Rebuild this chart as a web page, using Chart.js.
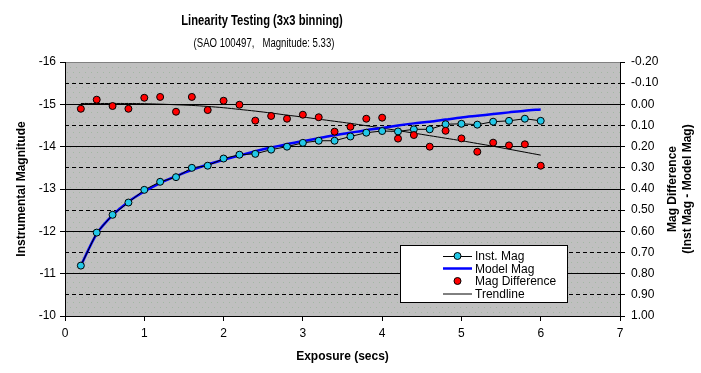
<!DOCTYPE html>
<html>
<head>
<meta charset="utf-8">
<title>Linearity Testing</title>
<script src="https://cdn.jsdelivr.net/npm/chart.js@4.4.1/dist/chart.umd.min.js"></script>
<style>
  html, body { margin: 0; padding: 0; background: #fff; }
  #wrap { width: 701px; height: 373px; }
</style>
</head>
<body>
<div id="wrap"><canvas id="chart" width="701" height="373"></canvas></div>
<script>
// exposure times (secs)
const exposure = [0.2, 0.4, 0.6, 0.8, 1.0, 1.2, 1.4, 1.6, 1.8, 2.0,
                  2.2, 2.4, 2.6, 2.8, 3.0, 3.2, 3.4, 3.6, 3.8, 4.0,
                  4.2, 4.4, 4.6, 4.8, 5.0, 5.2, 5.4, 5.6, 5.8, 6.0];

const instMag = [-11.19, -11.97, -12.39, -12.68, -12.98, -13.17, -13.28, -13.50, -13.55, -13.72,
                 -13.81, -13.83, -13.93, -14.00, -14.09, -14.14, -14.14, -14.24, -14.33, -14.37,
                 -14.36, -14.41, -14.41, -14.53, -14.54, -14.52, -14.59, -14.61, -14.66, -14.61];

const modelMag = [-11.19, -11.94, -12.38, -12.70, -12.94, -13.14, -13.30, -13.45, -13.58, -13.69,
                  -13.79, -13.89, -13.98, -14.06, -14.13, -14.20, -14.27, -14.33, -14.39, -14.44,
                  -14.50, -14.55, -14.59, -14.64, -14.69, -14.73, -14.77, -14.81, -14.85, -14.88];

const magDiff = [0.021, -0.022, 0.008, 0.021, -0.031, -0.035, 0.035, -0.035, 0.027, -0.017,
                 0.002, 0.077, 0.055, 0.068, 0.049, 0.061, 0.129, 0.106, 0.068, 0.063,
                 0.162, 0.145, 0.200, 0.125, 0.161, 0.224, 0.181, 0.194, 0.189, 0.290];

const trendline = [-0.004, -0.004, -0.004, -0.004, -0.003, -0.001, 0.002, 0.005, 0.010, 0.016,
                   0.024, 0.032, 0.041, 0.051, 0.060, 0.070, 0.080, 0.090, 0.101, 0.112,
                   0.124, 0.136, 0.148, 0.160, 0.172, 0.185, 0.198, 0.212, 0.226, 0.240];

// axis ranges
const xRange = [0, 7];
const magRange = [-16, -10];
const diffRange = [-0.2, 1.0];

const FONT = '"Liberation Sans", Arial, sans-serif';
const CYAN = '#22C8E8';

const toPoints = (ys) => exposure.map((x, i) => ({ x: x, y: ys[i] }));

// gray dotted plot background (Excel style)
function makePattern() {
  const c = document.createElement('canvas');
  c.width = 6; c.height = 10;
  const g = c.getContext('2d');
  g.fillStyle = '#C0C0C0';
  g.fillRect(0, 0, 6, 10);
  g.fillStyle = '#A3B7A3';
  g.fillRect(1, 2, 1, 1);
  g.fillRect(4, 7, 1, 1);
  return g.createPattern(c, 'repeat');
}

const plotBg = {
  id: 'plotBg',
  beforeDraw(chart) {
    const { ctx, chartArea: a } = chart;
    ctx.save();
    ctx.fillStyle = makePattern();
    ctx.fillRect(a.left, a.top, a.right - a.left, a.bottom - a.top);
    ctx.restore();
  }
};

// titles, axis titles and the legend box
const extras = {
  id: 'extras',
  afterDraw(chart) {
    const { ctx, chartArea: a } = chart;
    ctx.save();
    ctx.fillStyle = '#000';
    ctx.textAlign = 'center';
    ctx.textBaseline = 'middle';

    // main title + subtitle (narrow look)
    ctx.save();
    ctx.translate(262, 21);
    ctx.scale(0.8, 1);
    ctx.font = 'bold 14px ' + FONT;
    ctx.fillText('Linearity Testing (3x3 binning)', 0, 0);
    ctx.restore();
    ctx.save();
    ctx.translate(264, 44);
    ctx.scale(0.8, 1);
    ctx.font = '12px ' + FONT;
    ctx.fillText('(SAO 100497,   Magnitude: 5.33)', 0, 0);
    ctx.restore();

    // axis titles
    ctx.font = 'bold 12px ' + FONT;
    ctx.fillText('Exposure (secs)', (a.left + a.right) / 2, 357);

    ctx.save();
    ctx.translate(22, (a.top + a.bottom) / 2);
    ctx.rotate(-Math.PI / 2);
    ctx.fillText('Instrumental Magnitude', 0, 0);
    ctx.restore();

    ctx.save();
    ctx.translate(673, (a.top + a.bottom) / 2);
    ctx.rotate(-Math.PI / 2);
    ctx.fillText('Mag Difference', 0, 0);
    ctx.fillText('(Inst Mag - Model Mag)', 0, 15);
    ctx.restore();

    // legend
    const lx = 400.5, ly = 245.5, lw = 167, lh = 57;
    ctx.fillStyle = '#fff';
    ctx.fillRect(lx, ly, lw, lh);
    ctx.strokeStyle = '#000';
    ctx.lineWidth = 1;
    ctx.strokeRect(lx, ly, lw, lh);

    const rows = [256, 268.5, 281, 293.5];
    const x1 = 443, x2 = 472, mx = 457.5;
    ctx.beginPath();
    ctx.moveTo(x1, rows[0] + 0.5); ctx.lineTo(x2, rows[0] + 0.5);
    ctx.moveTo(x1, rows[3] + 0.5); ctx.lineTo(x2, rows[3] + 0.5);
    ctx.stroke();

    ctx.beginPath();
    ctx.strokeStyle = '#0000FF';
    ctx.lineWidth = 2.5;
    ctx.moveTo(x1, rows[1]); ctx.lineTo(x2, rows[1]);
    ctx.stroke();

    ctx.lineWidth = 1;
    ctx.strokeStyle = '#000';
    [[rows[0], CYAN], [rows[2], '#FF0000']].forEach(([y, col]) => {
      ctx.beginPath();
      ctx.arc(mx, y, 3.5, 0, Math.PI * 2);
      ctx.fillStyle = col;
      ctx.fill();
      ctx.stroke();
    });

    ctx.fillStyle = '#000';
    ctx.textAlign = 'left';
    ctx.font = '12px ' + FONT;
    ['Inst. Mag', 'Model Mag', 'Mag Difference', 'Trendline'].forEach((t, i) => {
      ctx.fillText(t, 475, rows[i] + 1);
    });
    ctx.restore();
  }
};

new Chart(document.getElementById('chart'), {
  type: 'line',
  data: {
    datasets: [
      {
        label: 'Inst. Mag',
        data: toPoints(instMag),
        yAxisID: 'y',
        borderColor: '#000',
        borderWidth: 1,
        backgroundColor: CYAN,
        pointBackgroundColor: CYAN,
        pointBorderColor: '#000',
        pointBorderWidth: 1,
        pointRadius: 3.5,
        tension: 0,
        order: 1
      },
      {
        label: 'Model Mag',
        data: toPoints(modelMag),
        yAxisID: 'y',
        borderColor: '#0000FF',
        borderWidth: 2.5,
        pointRadius: 0,
        tension: 0.3,
        order: 2
      },
      {
        label: 'Mag Difference',
        data: toPoints(magDiff),
        yAxisID: 'y2',
        showLine: false,
        backgroundColor: '#FF0000',
        pointBackgroundColor: '#FF0000',
        pointBorderColor: '#000',
        pointBorderWidth: 1,
        pointRadius: 3.5,
        order: 0
      },
      {
        label: 'Trendline',
        data: toPoints(trendline),
        yAxisID: 'y2',
        borderColor: '#000',
        borderWidth: 1,
        pointRadius: 0,
        tension: 0.3,
        order: 3
      }
    ]
  },
  options: {
    responsive: false,
    animation: false,
    events: [],
    layout: { padding: { top: 62, left: 0, right: 0, bottom: 0 } },
    plugins: {
      legend: { display: false },
      tooltip: { enabled: false },
      title: { display: false }
    },
    scales: {
      x: {
        type: 'linear',
        min: xRange[0],
        max: xRange[1],
        afterFit: (s) => { s.height = 57; },
        ticks: { stepSize: 1, color: '#000', font: { family: FONT, size: 12 }, padding: 5 },
        grid: { drawOnChartArea: false, drawTicks: true, tickLength: 5, color: '#000' },
        border: { color: '#000', width: 1 }
      },
      y: {
        type: 'linear',
        position: 'left',
        reverse: true,
        min: magRange[0],
        max: magRange[1],
        afterFit: (s) => { s.width = 65; },
        ticks: { stepSize: 1, color: '#000', font: { family: FONT, size: 12 }, padding: 4 },
        grid: {
          color: (c) => (c.tick && c.tick.value === -16 ? '#808080' : '#000'),
          tickColor: '#000',
          tickLength: 5,
          lineWidth: 1
        },
        border: { color: '#000', width: 1 }
      },
      y2: {
        type: 'linear',
        position: 'right',
        reverse: true,
        min: diffRange[0],
        max: diffRange[1],
        afterFit: (s) => { s.width = 81; },
        ticks: {
          stepSize: 0.1,
          color: '#000',
          font: { family: FONT, size: 12 },
          padding: 6,
          callback: (v) => (Math.abs(v) < 1e-9 ? '0.00' : Number(v).toFixed(2))
        },
        grid: {
          color: (c) => {
            if (!c.tick) return '#000';
            const v = c.tick.value;
            if (Math.abs(v + 0.2) < 1e-6 || Math.abs(v - 1.0) < 1e-6) return 'rgba(0,0,0,0)';
            return '#000';
          },
          tickColor: '#000',
          tickLength: 5,
          tickBorderDash: [],
          lineWidth: 1
        },
        border: { color: '#000', width: 1, dash: [4, 3] }
      }
    }
  },
  plugins: [plotBg, extras]
});
</script>
</body>
</html>
